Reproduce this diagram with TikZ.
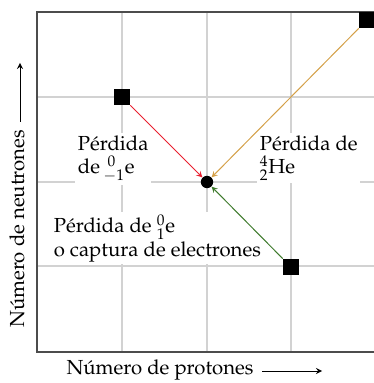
\documentclass[tikz,border=0pt]{standalone}
\usepackage[T1]{fontenc}
\usepackage{mathpazo}
\usetikzlibrary{positioning}

\definecolor{betared}{RGB}{232,32,48}
\definecolor{alphagold}{RGB}{212,160,72}
\definecolor{posgreen}{RGB}{62,122,44}

\begin{document}
\begin{tikzpicture}[x=0.6pt, y=-0.6pt,
        gridline/.style={draw=gray!35, line width=1.2pt},
        frame/.style={draw=black!70, line width=1.5pt},
        nucl/.style={rectangle, fill=black, minimum size=9.6pt, inner sep=0pt},
        prod/.style={circle, fill=black, minimum size=7.4pt, inner sep=0pt},
        lbl/.style={font=\fontsize{12.2}{14}\selectfont, align=left, fill=white, inner sep=1.5pt, anchor=north west},
        axlbl/.style={font=\fontsize{12.2}{14}\selectfont, inner sep=0pt},
        decay/.style={->, >=stealth, line width=0.6pt},
        axarrow/.style={->, >=stealth, line width=0.6pt}
    ]
        \useasboundingbox (0,0) rectangle (374,383);
        \clip (0,0) rectangle (374,383);

        % grid and frame
        \foreach \g in {122,207,291} {
            \draw[gridline] (\g,12) -- (\g,352);
            \draw[gridline] (37,\g-25) -- (376,\g-25);
        }
        \draw[frame] (37,12) rectangle (376,352);

        % labels
        \node[lbl] (lbeta) at (75,133) {P\'erdida\\de\,${}^{\;0}_{-1}$e};
        \node[lbl] (lalpha) at (257,133) {P\'erdida de\\${}^{4}_{2}$He};
        \node[lbl] (lpos) at (51,212) {P\'erdida de ${}^{0}_{1}$e\\o captura de electrones};

        % nuclei
        \node[prod] (prod) at (207,182) {};
        \node[nucl] (nbeta) at (122,97) {};
        \node[nucl] (nalpha) at (367,20) {};
        \node[nucl] (npos) at (291,267) {};

        \draw[decay, betared] (nbeta) -- (prod);
        \draw[decay, alphagold] (nalpha) -- (prod);
        \draw[decay, posgreen] (npos) -- (prod);

        % axes
        \node[axlbl, anchor=base] (xlab) at (160,374) {N\'umero de protones};
        \coordinate (xend) at (322,371);
        \draw[axarrow] ([xshift=5pt]xlab.east |- xend) -- (xend);
        \node[axlbl, rotate=90, anchor=base] (ylab) at (24,229) {N\'umero de neutrones};
        \coordinate (yend) at (20,63);
        \draw[axarrow] (ylab.east -| yend) ++(0,-8) -- (yend);
    \end{tikzpicture}
\end{document}
